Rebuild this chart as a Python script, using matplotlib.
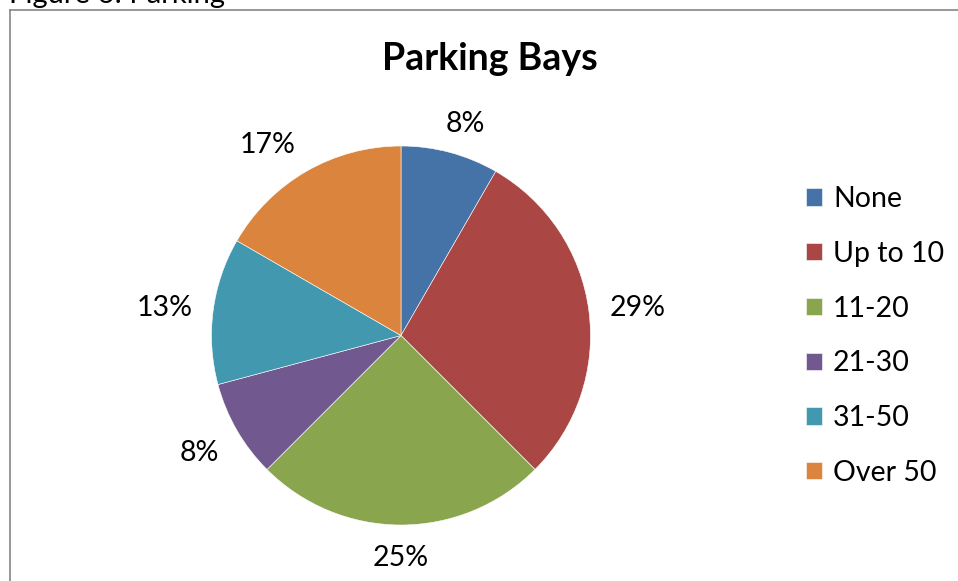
import numpy as np
import matplotlib
matplotlib.use("Agg")
import matplotlib.pyplot as plt
from matplotlib.lines import Line2D

plt.rcParams['font.family'] = ['Lato', 'DejaVu Sans']

# survey counts per parking-bay band
categories = ['None', 'Up to 10', '11-20', '21-30', '31-50', 'Over 50']
counts = [2, 7, 6, 2, 3, 4]
colors = ['#4572A7', '#AA4643', '#89A54E', '#71588F', '#4198AF', '#DB843D']

W, H, DPI = 958, 581, 100
fig = plt.figure(figsize=(W / DPI, H / DPI), dpi=DPI)

# pie centre / radius in pixels
cx, cy, rad = 401, 335.5, 189.5
lim = 1.3
side = 2 * lim * rad
ax = fig.add_axes([(cx - side / 2) / W, (H - cy - side / 2) / H, side / W, side / H])
wedges, _ = ax.pie(counts, colors=colors, startangle=90, counterclock=False,
                   radius=1.0, wedgeprops=dict(edgecolor='white', linewidth=0.4))
ax.set_xlim(-lim, lim)
ax.set_ylim(-lim, lim)
ax.set_aspect('equal')
ax.axis('off')

# percentage labels outside each slice, Excel style (round half up)
total = float(sum(counts))
fs = 20.5
renderer = fig.canvas.get_renderer()
gap = 21.0
cap = 0.72 * fs * DPI / 72.0
for w, c in zip(wedges, counts):
    pct = int(np.floor(c / total * 100 + 0.5))
    ang = np.deg2rad((w.theta1 + w.theta2) / 2.0)
    t = ax.text(0, 0, f'{pct}%', fontsize=fs, ha='center', va='baseline', color='black')
    bb = t.get_window_extent(renderer)
    hw, hh = bb.width / 2.0, cap / 2.0
    # anchor just outside the rim, label box pushed outward so its near edge/corner sits on it
    sx = np.clip(2 * np.cos(ang), -1, 1)
    sy = np.clip(2 * np.sin(ang), -1, 1)
    px = (rad + gap) * np.cos(ang) + hw * sx
    py = (rad + gap) * np.sin(ang) + hh * sy
    t.set_position((px / rad, (py - hh) / rad))
    t.set_clip_on(False)

leg = ax.legend(wedges, categories, loc='center left',
                bbox_to_anchor=(806 / W, (H - 336) / H), bbox_transform=fig.transFigure,
                frameon=False, fontsize=fs, handlelength=0.55, handleheight=0.55,
                handletextpad=0.4, labelspacing=1.01, borderpad=0, borderaxespad=0)

fig.text(490 / W, 1 - 70 / H, 'Parking Bays', ha='center', va='baseline',
         fontsize=27, fontweight='bold')

# caption above the chart, mostly cut off at the top edge
fig.text(9 / W, 1 - 3 / H, 'Figure 6: Parking', ha='left', va='baseline', fontsize=21)

# chart frame
fig.add_artist(Line2D([10 / W, 10 / W], [0, 1 - 10 / H], transform=fig.transFigure,
                      color='#868686', linewidth=1.2))
fig.add_artist(Line2D([10 / W, 1], [1 - 10 / H, 1 - 10 / H], transform=fig.transFigure,
                      color='#868686', linewidth=1.2))

fig.savefig('out.png', dpi=DPI)
